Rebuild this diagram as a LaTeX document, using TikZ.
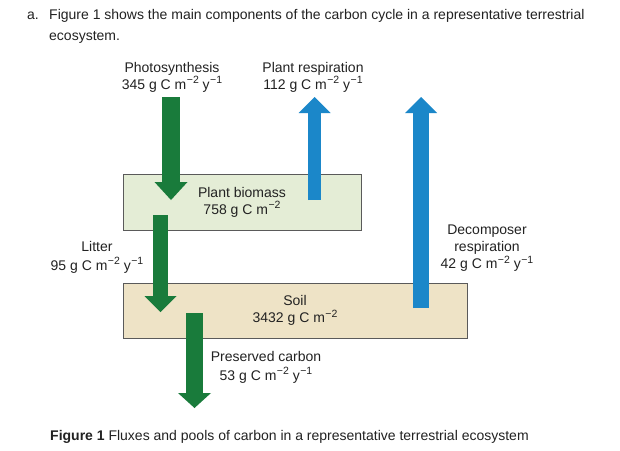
\documentclass[tikz,border=0pt]{standalone}
\usepackage{fontspec}
\setmainfont{Liberation Sans}
\usetikzlibrary{arrows.meta}
\definecolor{fluxgreen}{HTML}{197B3B}
\definecolor{fluxblue}{HTML}{1B87C9}
\definecolor{biofill}{HTML}{E4EDD6}
\definecolor{soilfill}{HTML}{EEE3C6}
\definecolor{boxline}{HTML}{5A5A5A}
\definecolor{txt}{HTML}{222222}
\newcommand\supx[1]{\kern0.5pt\raisebox{0.38em}{\fontsize{10.5}{11}\selectfont #1}}
\tikzset{
  lbl/.style={font=\fontsize{14}{17}\selectfont, text=txt, inner sep=0pt, align=center},
  pool/.style={lbl, draw=boxline, line width=0.8pt},
  flux/.style={line cap=butt},
}
\begin{document}
\begin{tikzpicture}[x=1pt,y=-1pt]
\useasboundingbox (0,0) rectangle (620,450);
\fill[white] (0,0) rectangle (620,450);

% header text
\node[lbl, anchor=west] (qa) at (27,16) {a.};
\node[lbl, anchor=west] (q1) at (49,16) {Figure 1 shows the main components of the carbon cycle in a representative terrestrial};
\node[lbl, anchor=west] (q2) at (49,37) {ecosystem.};

% pools
\node[pool, fill=biofill, minimum width=238pt, minimum height=56pt] (bio) at (242,202)
  {Plant biomass\\758 g C m\supx{−2}};
\node[pool, fill=soilfill, minimum width=344pt, minimum height=55pt] (soil) at (295,310.5)
  {Soil\\3432 g C m\supx{−2}};

% flux labels
\node[lbl] (lps) at (172,77) {Photosynthesis\\345 g C m\supx{−2} y\supx{−1}};
\node[lbl] (lpr) at (313,77) {Plant respiration\\112 g C m\supx{−2} y\supx{−1}};
\node[lbl] (llit) at (97,257) {Litter\\[2pt]95 g C m\supx{−2} y\supx{−1}};
\node[lbl] (lpc) at (266,367) {Preserved carbon\\[2pt]53 g C m\supx{−2} y\supx{−1}};
\node[lbl] (ldr) at (487,248) {Decomposer\\respiration\\42 g C m\supx{−2} y\supx{−1}};

% coordinates of fluxes
\coordinate (ps1) at (171,97);   \coordinate (ps2) at (171,200);
\coordinate (pr1) at (314.5,200); \coordinate (pr2) at (314.5,97);
\coordinate (li1) at (160.5,215); \coordinate (li2) at (160.5,312);
\coordinate (pc1) at (194.5,313); \coordinate (pc2) at (194.5,408);
\coordinate (dr1) at (421,308);  \coordinate (dr2) at (421,97);

\draw[flux, fluxgreen, line width=18pt, -{Triangle[width=33pt,length=18pt,line width=0pt]}] (ps1) -- (ps2);
\draw[flux, fluxblue, line width=13pt, -{Triangle[width=32pt,length=16pt,line width=0pt]}] (pr1) -- (pr2);
\draw[flux, fluxgreen, line width=15pt, -{Triangle[width=32pt,length=16pt,line width=0pt]}] (li1) -- (li2);
\draw[flux, fluxgreen, line width=17pt, -{Triangle[width=33pt,length=15pt,line width=0pt]}] (pc1) -- (pc2);
\draw[flux, fluxblue, line width=16pt, -{Triangle[width=32pt,length=16pt,line width=0pt]}] (dr1) -- (dr2);

% caption
\node[lbl, anchor=west] (cap) at (50,437) {\textbf{Figure 1} Fluxes and pools of carbon in a representative terrestrial ecosystem};
\end{tikzpicture}
\end{document}
